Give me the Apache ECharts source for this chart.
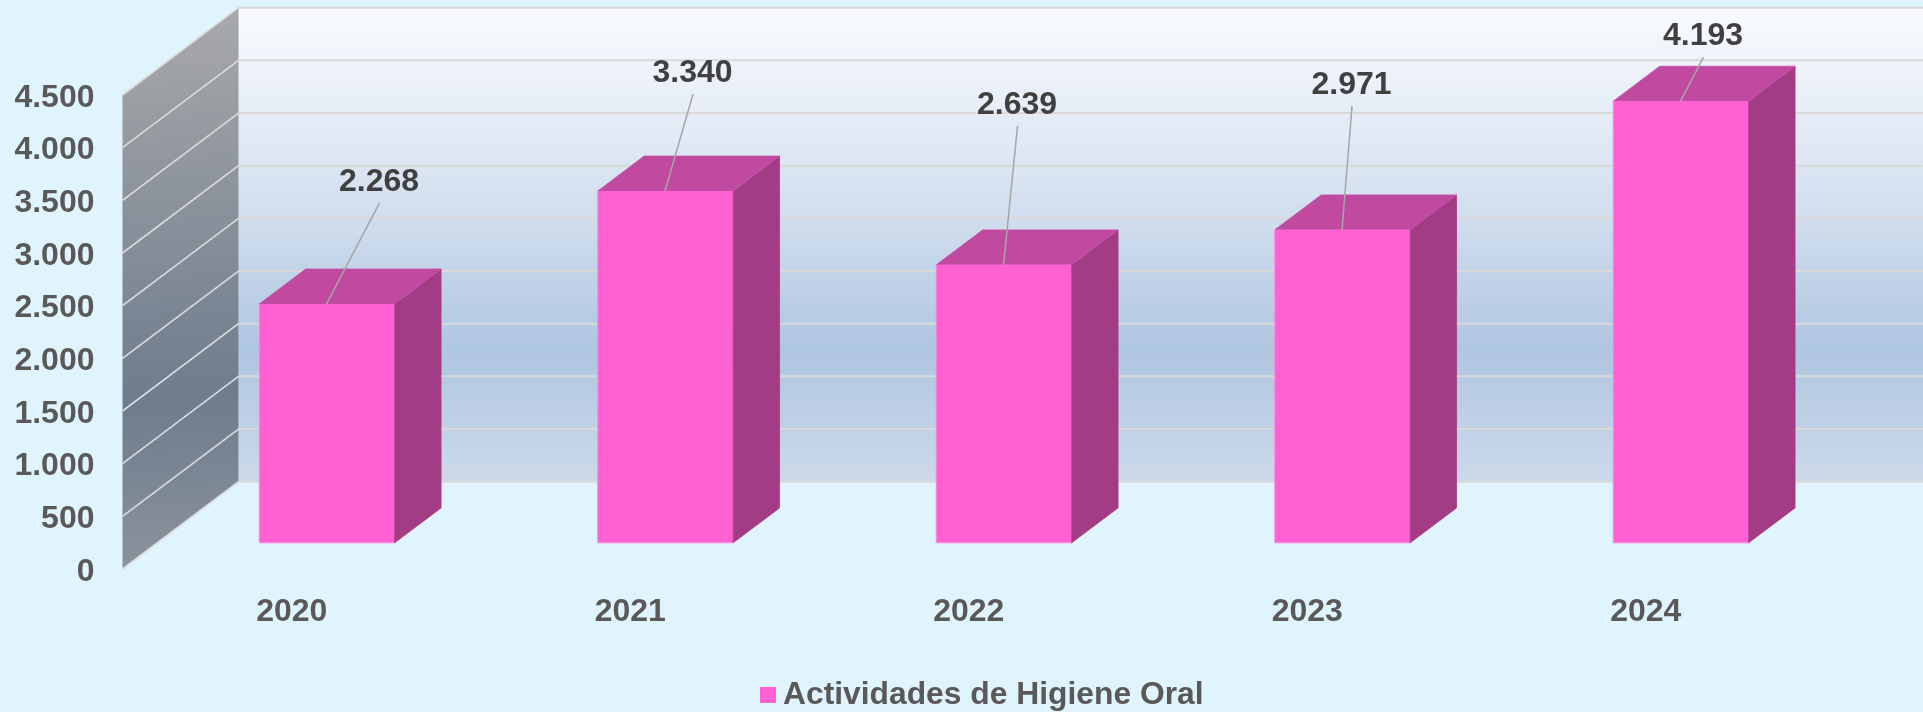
<!DOCTYPE html>
<html>
<head>
<meta charset="utf-8">
<style>html,body{margin:0;padding:0;background:#dff4fc}#c{width:1923px;height:712px}</style>
<script src="https://cdn.jsdelivr.net/npm/echarts@6/dist/echarts.min.js"></script>
</head>
<body>
<div id="c"></div>
<script>
var categories = ['2020', '2021', '2022', '2023', '2024'];
var values = [2268, 3340, 2639, 2971, 4193];
var valueTicks = [0, 500, 1000, 1500, 2000, 2500, 3000, 3500, 4000, 4500];
var seriesName = 'Actividades de Higiene Oral';

// leader-line ends, in pixels from the top-centre of each bar's front face
var leaderDx = [53, 28, 14, 10, 23];
var leaderDy = [-101, -97, -139, -124, -44];

var FONT = '"Liberation Sans", Arial, sans-serif';
var DEPTH_X = 116, DEPTH_Y = -87.3;   // full floor depth projected on screen
var BAR_NEAR = 0.3, BAR_FAR = 0.7, BAR_WIDTH = 0.4;

function fmt(v) {
  return String(v).replace(/\B(?=(\d{3})+$)/g, '.');
}
function shift(p, d) {
  return [p[0] + DEPTH_X * d, p[1] + DEPTH_Y * d];
}

function renderWalls(params, api) {
  var cs = params.coordSys;
  var top = api.coord([0, 4500])[1], bottom = api.coord([0, 0])[1];
  var l = cs.x, r = cs.x + cs.width;
  var fb = [l, bottom], ft = [l, top];
  var bb = shift(fb, 1), bt = shift(ft, 1);
  var rb = shift([r, bottom], 1), rt = shift([r, top], 1);
  return {
    type: 'group',
    children: [
      {
        type: 'polygon', shape: { points: [bt, rt, rb, bb] }, silent: true,
        style: {
          fill: new echarts.graphic.LinearGradient(0, 0, 0, 1, [
            { offset: 0, color: '#f9fbfe' },
            { offset: 0.22, color: '#e6edf7' },
            { offset: 0.44, color: '#d1deee' },
            { offset: 0.72, color: '#afc6e1' },
            { offset: 1, color: '#ccd9ea' }
          ])
        }
      },
      {
        type: 'polygon', shape: { points: [ft, bt, bb, fb] }, silent: true,
        style: {
          fill: new echarts.graphic.LinearGradient(0, 0, 0.25, 1, [
            { offset: 0, color: '#a9a9aa' },
            { offset: 0.7, color: '#6e7c8e' },
            { offset: 1, color: '#8b939c' }
          ])
        }
      }
    ]
  };
}

function renderGrid(params, api) {
  var cs = params.coordSys;
  var v = api.value(1);
  var y = api.coord([0, v])[1];
  var a = [cs.x, y], b = shift(a, 1), c = shift([cs.x + cs.width, y], 1);
  return {
    type: 'group',
    children: [
      { type: 'line', silent: true, shape: { x1: a[0], y1: a[1], x2: b[0], y2: b[1] },
        style: { stroke: '#dcdcdc', lineWidth: 1.6, fill: null } },
      { type: 'line', silent: true, shape: { x1: b[0], y1: b[1], x2: c[0], y2: c[1] },
        style: { stroke: '#d9d9d9', lineWidth: 2, fill: null } }
    ]
  };
}

function renderBar(params, api) {
  var i = api.value(0), v = api.value(1);
  var band = api.size([1, 0])[0];
  var base = api.coord([i, 0]), topPt = api.coord([i, v]);
  var hw = band * BAR_WIDTH / 2;
  var n = shift([base[0] + 0.4, base[1]], BAR_NEAR);
  var nt = shift([topPt[0] + 0.4, topPt[1]], BAR_NEAR);
  var k = BAR_FAR - BAR_NEAR;
  var off = function (p) { return [p[0] + DEPTH_X * k, p[1] + DEPTH_Y * k]; };
  var fbl = [n[0] - hw, n[1]], fbr = [n[0] + hw, n[1]];
  var ftl = [nt[0] - hw, nt[1]], ftr = [nt[0] + hw, nt[1]];
  return {
    type: 'group',
    children: [
      { type: 'polygon', shape: { points: [fbr, ftr, off(ftr), off(fbr)] },
        style: { fill: '#a23c85', stroke: '#a23c85', lineWidth: 0.8 } },
      { type: 'polygon', shape: { points: [ftl, off(ftl), off(ftr), ftr] },
        style: { fill: '#bf4aa0', stroke: '#c650a8', lineWidth: 0.8 } },
      { type: 'polygon', shape: { points: [ftl, ftr, fbr, fbl] },
        style: { fill: '#ff61d2' } },
      { type: 'polyline', shape: { points: [ftl, fbl, fbr] },
        style: { stroke: '#ff86de', lineWidth: 1, fill: null } },
      { type: 'line', shape: { x1: ftr[0], y1: ftr[1], x2: fbr[0], y2: fbr[1] },
        style: { stroke: '#b8459a', lineWidth: 1, fill: null } }
    ]
  };
}

function renderLabel(params, api) {
  var i = api.value(0), v = api.value(1);
  var p = shift(api.coord([i, v]), BAR_NEAR);
  var ex = p[0] + leaderDx[i], ey = p[1] + leaderDy[i];
  return {
    type: 'group',
    children: [
      { type: 'line', silent: true, shape: { x1: p[0], y1: p[1], x2: ex, y2: ey },
        style: { stroke: '#a6a6a6', lineWidth: 1.5, fill: null } },
      { type: 'text', silent: true, x: ex - 0.5, y: ey - 20.5,
        style: { text: fmt(v), fill: '#404040', font: 'bold 32px ' + FONT, align: 'center', verticalAlign: 'middle' } }
    ]
  };
}

var chart = echarts.init(document.getElementById('c'), null, { renderer: 'canvas' });
chart.setOption({
  animation: false,
  backgroundColor: '#dff4fc',
  textStyle: { fontFamily: FONT },
  grid: { left: 122.5, top: 95, width: 1692.5, height: 474, containLabel: false },
  legend: {
    left: 760, top: 679, padding: 0, icon: 'rect', itemWidth: 16, itemHeight: 16, itemGap: 0,
    data: [seriesName],
    textStyle: { color: '#595959', fontSize: 31.8, fontWeight: 'bold', fontFamily: FONT, padding: [0, 0, 0, 2] }
  },
  tooltip: { show: false },
  xAxis: {
    type: 'category', data: categories,
    axisLine: { show: false }, axisTick: { show: false }, splitLine: { show: false },
    axisLabel: { color: '#595959', fontSize: 32, fontWeight: 'bold', fontFamily: FONT, margin: 27 }
  },
  yAxis: {
    type: 'value', min: 0, max: 4500, interval: 500,
    axisLine: { show: false }, axisTick: { show: false }, splitLine: { show: false },
    axisLabel: {
      margin: 28,
      formatter: function (v) { return '{t|' + fmt(v) + '}'; },
      rich: { t: { color: '#595959', fontSize: 32, fontWeight: 'bold', fontFamily: FONT, padding: [6, 0, 0, 0] } }
    }
  },
  series: [
    { type: 'custom', name: 'walls', silent: true, z: 1, renderItem: renderWalls,
      encode: { x: 0, y: 1 }, data: [[0, 4500]] },
    { type: 'custom', name: 'gridlines', silent: true, z: 2, renderItem: renderGrid,
      encode: { x: 0, y: 1 }, data: valueTicks.map(function (t) { return [0, t]; }) },
    { type: 'custom', name: seriesName, z: 3, renderItem: renderBar,
      itemStyle: { color: '#ff61d2' }, encode: { x: 0, y: 1 },
      data: values.map(function (v, i) { return [i, v]; }) },
    { type: 'custom', name: 'labels', silent: true, z: 4, renderItem: renderLabel,
      encode: { x: 0, y: 1 },
      data: values.map(function (v, i) { return [i, v]; }) }
  ]
});
</script>
</body>
</html>
